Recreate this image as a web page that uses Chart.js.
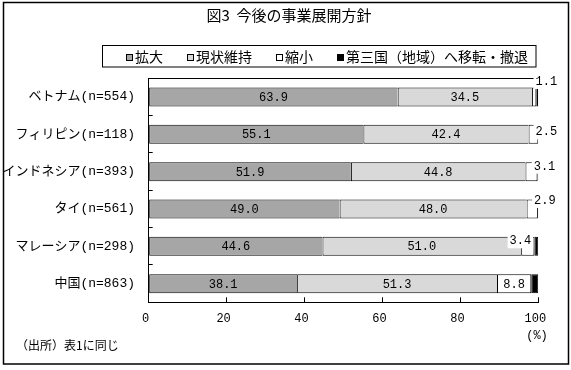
<!DOCTYPE html>
<html lang="ja">
<head>
<meta charset="utf-8">
<title>図3 今後の事業展開方針</title>
<script src="https://cdn.jsdelivr.net/npm/chart.js@4.4.1/dist/chart.umd.min.js"></script>
<style>
  html, body { margin: 0; padding: 0; background: #fff; }
  canvas { display: block; }
</style>
</head>
<body>
<canvas id="policyChart" width="571" height="370"></canvas>
<script>
// Survey data (%), one entry per country
const categories = ['ベトナム(n=554)', 'フィリピン(n=118)', 'インドネシア(n=393)', 'タイ(n=561)', 'マレーシア(n=298)', '中国(n=863)'];
const expandValues = [63.9, 55.1, 51.9, 49.0, 44.6, 38.1];
const maintainValues = [34.5, 42.4, 44.8, 48.0, 51.0, 51.3];
const shrinkValues = [1.1, 2.5, 3.1, 2.9, 3.4, 8.8];
const relocateValues = [0.5, 0.0, 0.2, 0.1, 1.0, 1.8];
const seriesNames = ['拡大', '現状維持', '縮小', '第三国（地域）へ移転・撤退'];
const xTicks = [0, 20, 40, 60, 80, 100];

const JP_FONT = "'Noto Sans CJK JP', sans-serif";
const NUM_FONT = "'Liberation Mono', 'Noto Sans CJK JP', monospace";

// small 縮小 values sit outside the bar, nudged from the segment end (null = centred inside)
const shrinkLabelNudge = [[10, -16], [8, -3], [7, -6], [7, -9], [-14, -6], null];

// draws the numbers on the bars
function drawValueLabels(chart) {
  const ctx = chart.ctx;
  ctx.save();
  ctx.font = '12px ' + NUM_FONT;
  ctx.textAlign = 'center';
  ctx.textBaseline = 'middle';
  [0, 1, 2].forEach(di => {
    const meta = chart.getDatasetMeta(di);
    const values = chart.data.datasets[di].data;
    meta.data.forEach((bar, i) => {
      const text = values[i].toFixed(1);
      let x = (bar.x + bar.base) / 2;
      let y = bar.y;
      const nudge = di === 2 ? shrinkLabelNudge[i] : null;
      if (nudge) {
        x = bar.x + nudge[0];
        y = bar.y + nudge[1];
        const w = ctx.measureText(text).width + 4;
        ctx.fillStyle = '#fff';
        ctx.fillRect(x - w / 2, y - 8, w, 16);
      }
      ctx.fillStyle = '#000';
      ctx.fillText(text, x, y + 1);
    });
  });
  ctx.restore();
}

const framePlugin = {
  id: 'frame',
  beforeDraw(chart) {
    const ctx = chart.ctx;
    ctx.save();
    ctx.fillStyle = '#fff';
    ctx.fillRect(0, 0, chart.width, chart.height);
    ctx.restore();
  },
  afterDatasetsDraw(chart) {
    const ctx = chart.ctx;
    const area = chart.chartArea;
    // top edge of the plot box
    ctx.save();
    ctx.strokeStyle = '#000';
    ctx.lineWidth = 1;
    ctx.beginPath();
    ctx.moveTo(area.left, Math.round(area.top) + 0.5);
    ctx.lineTo(area.right, Math.round(area.top) + 0.5);
    ctx.stroke();
    ctx.restore();
    drawValueLabels(chart);
  },
  afterDraw(chart) {
    const ctx = chart.ctx;
    ctx.save();
    ctx.strokeStyle = '#000';

    // outer frame
    ctx.lineWidth = 1.5;
    ctx.strokeRect(3.5, 2.5, 565, 361.5);

    // title
    ctx.fillStyle = '#000';
    ctx.font = '15px ' + JP_FONT;
    ctx.textAlign = 'center';
    ctx.textBaseline = 'middle';
    ctx.fillText('図3  今後の事業展開方針', 289, 15);

    // legend box + items
    ctx.lineWidth = 1;
    ctx.strokeRect(102.5, 45.5, 433.5, 21.5);
    ctx.font = '14px ' + JP_FONT;
    ctx.textAlign = 'left';
    let x = 126;
    chart.data.datasets.forEach(ds => {
      ctx.fillStyle = ds.backgroundColor;
      ctx.fillRect(x, 54, 7, 7);
      ctx.strokeRect(x + 0.5, 54.5, 6, 6);
      ctx.fillStyle = '#000';
      ctx.fillText(ds.label, x + 9, 57);
      x += 9 + ctx.measureText(ds.label).width + 24;
    });

    // unit under the axis and source note
    ctx.font = '12px ' + NUM_FONT;
    ctx.textAlign = 'center';
    ctx.fillText('(%)', 537, 336);
    ctx.font = '12px ' + JP_FONT;
    ctx.textAlign = 'left';
    ctx.fillText('（出所）表1に同じ', 16, 345);
    ctx.restore();
  }
};

const sideBorders = { top: 1, bottom: 1, left: 1, right: 0 };

new Chart(document.getElementById('policyChart'), {
  type: 'bar',
  data: {
    labels: categories,
    datasets: [
      { label: seriesNames[0], data: expandValues, backgroundColor: '#a6a6a6', borderColor: '#000', borderWidth: sideBorders },
      { label: seriesNames[1], data: maintainValues, backgroundColor: '#d9d9d9', borderColor: '#000', borderWidth: sideBorders },
      { label: seriesNames[2], data: shrinkValues, backgroundColor: '#ffffff', borderColor: '#000', borderWidth: 1 },
      { label: seriesNames[3], data: relocateValues, backgroundColor: '#000000', borderColor: '#000', borderWidth: 1 }
    ]
  },
  options: {
    indexAxis: 'y',
    responsive: false,
    animation: false,
    devicePixelRatio: 1,
    layout: { padding: { left: 0, right: 32.7, top: 78.3, bottom: 37.7 } },
    datasets: {
      bar: { barThickness: 19, borderSkipped: false, inflateAmount: 0 }
    },
    plugins: {
      legend: { display: false },
      title: { display: false },
      tooltip: { enabled: false }
    },
    scales: {
      x: {
        stacked: true,
        min: 0,
        max: 100,
        afterBuildTicks: scale => { scale.ticks = xTicks.map(v => ({ value: v })); },
        afterFit: scale => { scale.height = 30; },
        grid: { drawOnChartArea: false, tickLength: -5, color: '#000' },
        border: { color: '#000', width: 1 },
        ticks: {
          color: '#000',
          font: { size: 12, family: NUM_FONT },
          padding: 14.2,
          labelOffset: -3,
          maxRotation: 0
        }
      },
      y: {
        stacked: true,
        afterFit: scale => { scale.width = 148.7; },
        grid: { drawOnChartArea: false, tickLength: -4, color: '#000' },
        border: { color: '#000', width: 1 },
        ticks: {
          color: '#000',
          font: { size: 13, family: NUM_FONT },
          padding: 17.7
        }
      }
    }
  },
  plugins: [framePlugin]
});
</script>
</body>
</html>
